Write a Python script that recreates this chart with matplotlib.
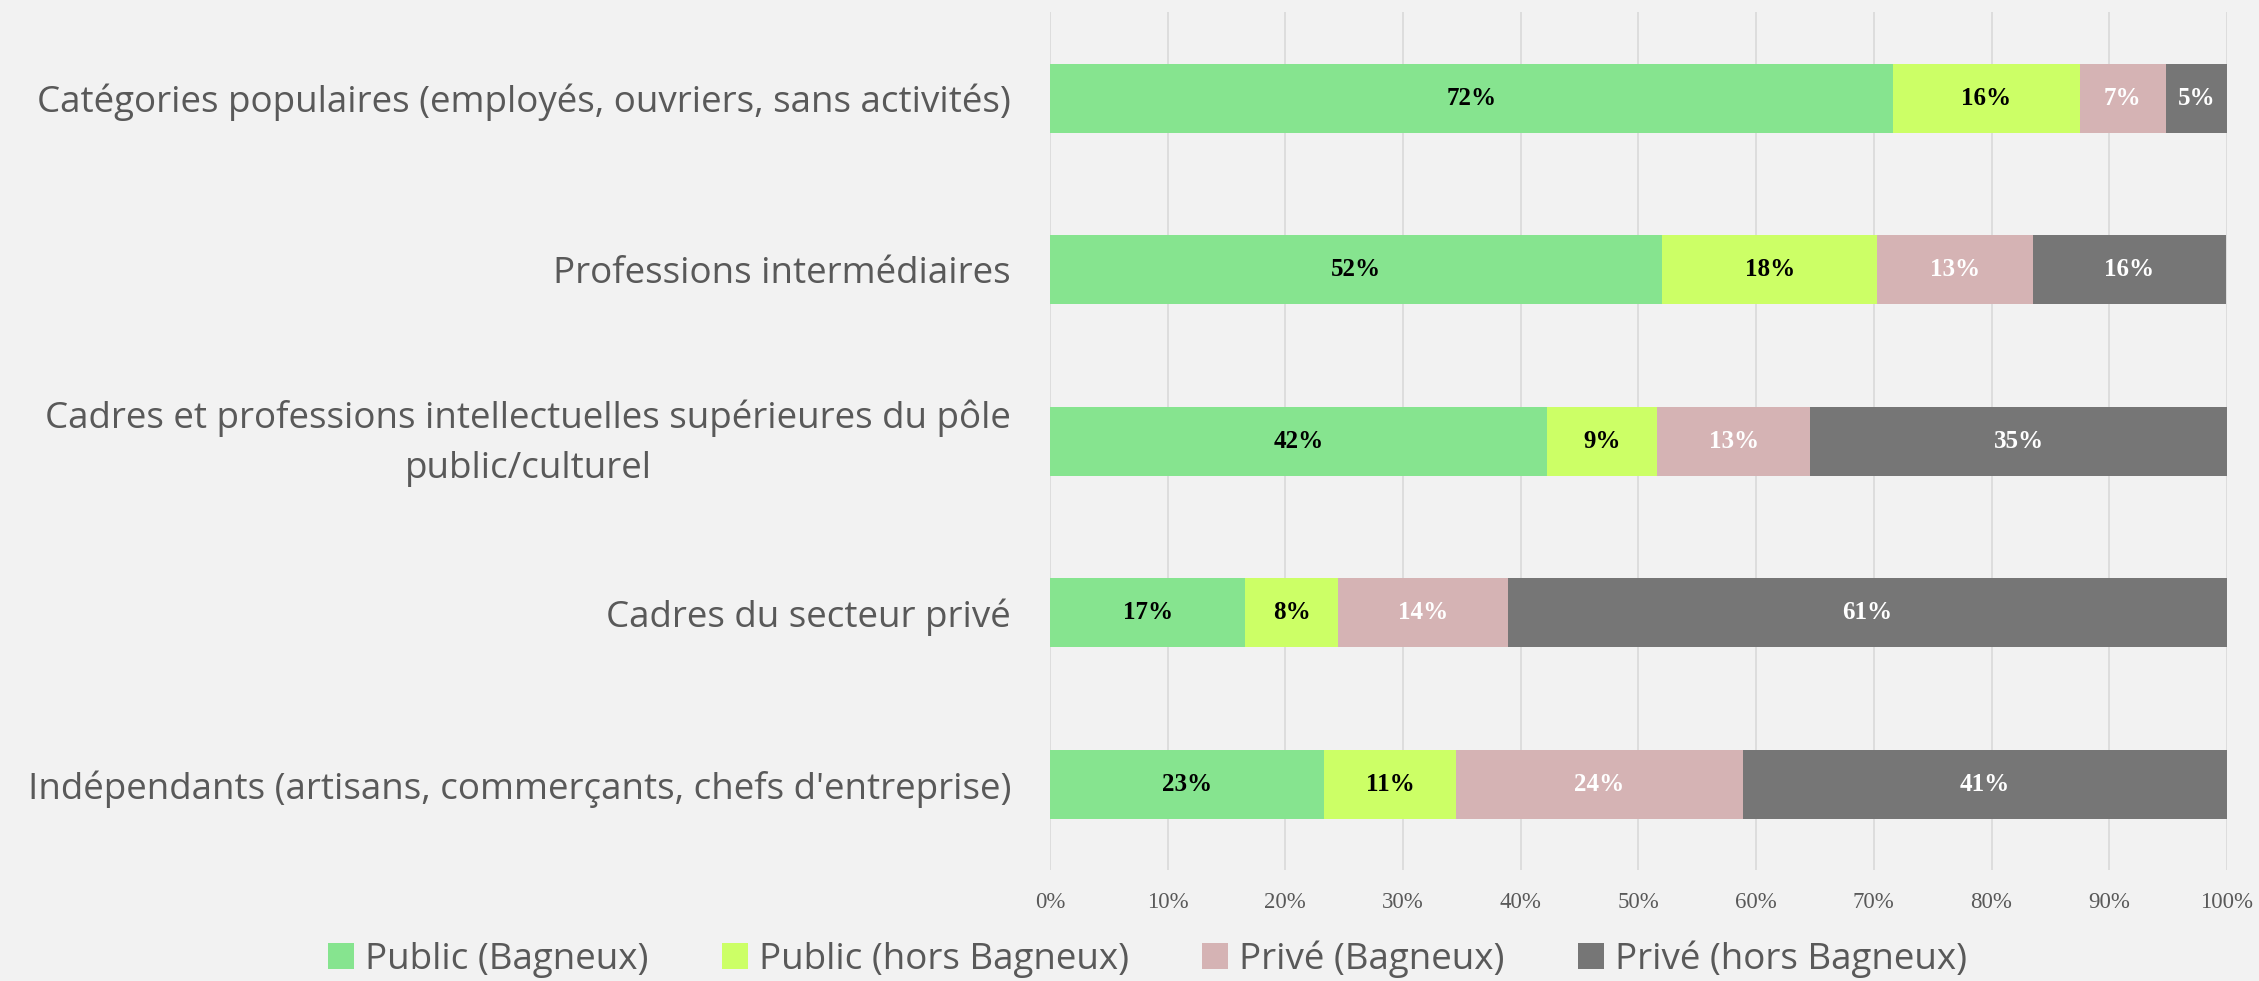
import matplotlib.pyplot as plt
import matplotlib.transforms as mtransforms
import numpy as np

# categories, top to bottom
categories = [
    "Catégories populaires (employés, ouvriers, sans activités)",
    "Professions intermédiaires",
    "Cadres et professions intellectuelles supérieures du pôle\npublic/culturel",
    "Cadres du secteur privé",
    "Indépendants (artisans, commerçants, chefs d'entreprise)",
]

series_names = ["Public (Bagneux)", "Public (hors Bagneux)", "Privé (Bagneux)", "Privé (hors Bagneux)"]

# shares in %
public_bagneux = [71.6, 52.0, 42.2, 16.6, 23.3]
public_hors = [15.9, 18.3, 9.4, 7.9, 11.2]
prive_bagneux = [7.3, 13.2, 13.0, 14.4, 24.4]
prive_hors = [5.2, 16.4, 35.4, 61.1, 41.1]

colors = ["#86E48F", "#CCFF66", "#D5B3B4", "#767676"]
label_colors = ["black", "black", "white", "white"]

bg = "#F2F2F2"
fig = plt.figure(figsize=(22.59, 9.81), dpi=100, facecolor=bg)
ax = fig.add_axes([0.4648, 0.1131, 0.5210, 0.8742], facecolor=bg)

y = np.arange(len(categories))
left = np.zeros(len(categories))
handles = []
for vals, name, col, tcol in zip([public_bagneux, public_hors, prive_bagneux, prive_hors],
                                 series_names, colors, label_colors):
    vals = np.array(vals)
    bars = ax.barh(y, vals, left=left, height=0.4, color=col, label=name, zorder=3)
    handles.append(bars)
    for yy, l, v in zip(y, left, vals):
        ax.text(l + v / 2, yy, "%d%%" % round(v), ha="center", va="center",
                color=tcol, fontsize=18, fontweight="bold",
                family="Liberation Serif", zorder=4)
    left += vals

ax.set_xlim(0, 100)
ax.set_ylim(len(categories) - 0.5, -0.5)
ax.set_xticks(np.arange(0, 101, 10))
ax.set_xticklabels(["%d%%" % t for t in range(0, 101, 10)],
                   family="Liberation Serif", fontsize=16.5, color="#595959")
ax.set_yticks(y)
ax.set_yticklabels(categories, fontsize=26.5, color="#595959", family="Open Sans",
                   multialignment="center", linespacing=1.55)
ax.tick_params(axis="y", length=0, pad=28)
ax.tick_params(axis="x", length=0, pad=16)
ax.grid(axis="x", color="#D9D9D9", linewidth=1.2, zorder=0)
for s in ax.spines.values():
    s.set_visible(False)

# two-line label sits a bit high in the original
lab = ax.get_yticklabels()[2]
lab.set_transform(lab.get_transform() + mtransforms.ScaledTranslation(0, 0.1, fig.dpi_scale_trans))

leg = fig.legend(handles=handles, labels=series_names, loc="center", bbox_to_anchor=(0.508, 0.022),
                 ncol=4, frameon=False, handlelength=0.7, handleheight=0.7,
                 handletextpad=0.3, columnspacing=2.0,
                 prop={"family": "Open Sans", "size": 26.5})
for t in leg.get_texts():
    t.set_color("#595959")

fig.savefig("out.png", dpi=100, facecolor=bg)
